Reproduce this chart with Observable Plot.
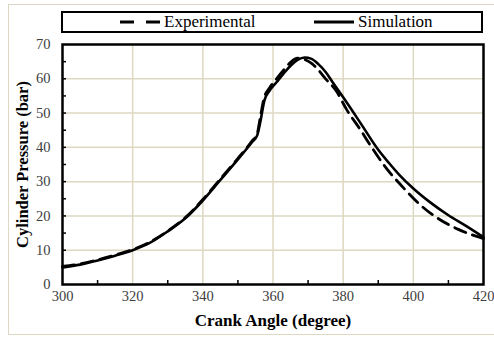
<!DOCTYPE html>
<html>
<head>
<meta charset="utf-8">
<script src="https://cdn.jsdelivr.net/npm/d3@7"></script>
<script src="https://cdn.jsdelivr.net/npm/@observablehq/plot@0.6"></script>
<style>
  html, body { margin: 0; padding: 0; background: #fff; }
  #wrap { position: relative; width: 494px; height: 338px; overflow: hidden; font-family: "Liberation Serif", "Times New Roman", serif; }
  #outer { position: absolute; left: 8px; top: 4px; width: 494px; height: 331px; border: 1px solid #dcd8c4; box-sizing: border-box; }
  #legend { position: absolute; left: 61px; top: 11px; width: 422px; height: 22px; border: 2px solid #000; box-sizing: border-box; background: #fff; }
  #legend .item { position: absolute; top: 0; height: 18px; display: flex; align-items: center; font-size: 17px; color: #000; white-space: nowrap; }
  #legend svg { display: block; margin-right: 2px; }
  #chart { position: absolute; left: 0; top: 0; }
</style>
</head>
<body>
<div id="wrap">
  <div id="outer"></div>
  <div id="chart"></div>
  <div id="legend"></div>
</div>
<script>
// Data
const simAngle = [300, 305, 310, 315, 320, 325, 330, 335, 340, 345, 350, 354, 355.5, 356.5, 357.5, 359, 361, 363, 365, 367, 369, 371, 373, 375, 377, 380, 385, 390, 393, 396, 400, 405, 410, 415, 420];
const simPressure = [5.0, 5.8, 7.0, 8.4, 10.0, 12.2, 15.5, 19.3, 24.5, 30.5, 36.5, 41.5, 43.5, 48, 53.5, 56.5, 59, 61.5, 63.8, 65.5, 66.2, 65.8, 64.2, 62, 59, 54.6, 47, 39.3, 35.5, 32.0, 28.0, 23.8, 20.2, 17.1, 13.8];
const expAngle = [300, 305, 310, 315, 320, 325, 330, 335, 340, 345, 350, 354, 355.5, 356.5, 357.5, 359, 361, 363, 365, 367, 369, 371, 373, 375, 378, 381, 385, 388, 392, 397, 402, 407, 413, 420];
const expPressure = [5.3, 6.0, 7.2, 8.6, 10.2, 12.4, 15.6, 19.5, 24.8, 30.8, 36.8, 41.8, 44, 49.5, 54.5, 57.3, 60, 62.5, 64.8, 66, 65.6, 64.5, 62.5, 60, 56.5, 51, 45, 40.2, 34.3, 28.4, 23.2, 19.3, 16.0, 13.4];
const seriesNames = ["Experimental", "Simulation"];
const xTicks = [300, 320, 340, 360, 380, 400, 420];
const yTicks = [0, 10, 20, 30, 40, 50, 60, 70];
const xMinorTicks = [310, 330, 350, 370, 390, 410];
const yMinorTicks = [5, 10, 15, 20, 25, 30, 35, 40, 45, 50, 55, 60, 65];
const xTitle = "Crank Angle (degree)";
const yTitle = "Cylinder Pressure (bar)";

const sim = simAngle.map((a, i) => ({angle: a, p: simPressure[i]}));
const exp = expAngle.map((a, i) => ({angle: a, p: expPressure[i]}));

const dash = "12,7";

const chart = Plot.plot({
  width: 494,
  height: 338,
  marginLeft: 62,
  marginRight: 11,
  marginTop: 44,
  marginBottom: 54,
  style: {fontFamily: "Liberation Serif, Times New Roman, serif", fontSize: "14.5px", background: "transparent", overflow: "visible"},
  x: {domain: [300, 420]},
  y: {domain: [0, 70]},
  marks: [
    Plot.gridX([320, 340, 360, 380, 400], {stroke: "#ddd8c2", strokeOpacity: 1, strokeWidth: 1.5}),
    Plot.gridY([10, 20, 30, 40, 50, 60], {stroke: "#ddd8c2", strokeOpacity: 1, strokeWidth: 1.5}),
    Plot.line(sim, {x: "angle", y: "p", stroke: "#000", strokeWidth: 2.6, curve: "monotone-x"}),
    Plot.line(exp, {x: "angle", y: "p", stroke: "#000", strokeWidth: 2.8, strokeDasharray: dash, curve: "monotone-x"}),
    Plot.frame({stroke: "#000", strokeWidth: 2.5}),
    Plot.axisY(yMinorTicks, {tickSize: -4, strokeWidth: 1.5, text: null, label: null}),
    Plot.axisX(xMinorTicks, {tickSize: -4, strokeWidth: 1.5, text: null, label: null}),
    Plot.axisY(yTicks, {tickSize: 0, tickPadding: 12, fill: "#404040", label: null}),
    Plot.axisX(xTicks, {tickSize: 0, tickPadding: 6, fill: "#404040", label: null}),
    Plot.text([xTitle], {frameAnchor: "bottom", dy: 41, fontWeight: "bold", fontSize: 17, fill: "#000"}),
    Plot.text([yTitle], {frameAnchor: "left", dx: -40, rotate: -90, textAnchor: "middle", fontWeight: "bold", fontSize: 16.5, fill: "#000"})
  ]
});
document.getElementById("chart").appendChild(chart);

// Legend
const legend = document.getElementById("legend");
const items = [
  {name: seriesNames[0], left: 55, dashed: true},
  {name: seriesNames[1], left: 249, dashed: false}
];
for (const it of items) {
  const div = document.createElement("div");
  div.className = "item";
  div.style.left = it.left + "px";
  const svg = d3.create("svg").attr("width", 44).attr("height", 18);
  svg.append("line").attr("x1", 2).attr("x2", 42).attr("y1", 9).attr("y2", 9)
    .attr("stroke", "#000").attr("stroke-width", 3)
    .attr("stroke-dasharray", it.dashed ? "14,12" : null);
  div.appendChild(svg.node());
  const span = document.createElement("span");
  span.textContent = it.name;
  div.appendChild(span);
  legend.appendChild(div);
}
</script>
</body>
</html>
